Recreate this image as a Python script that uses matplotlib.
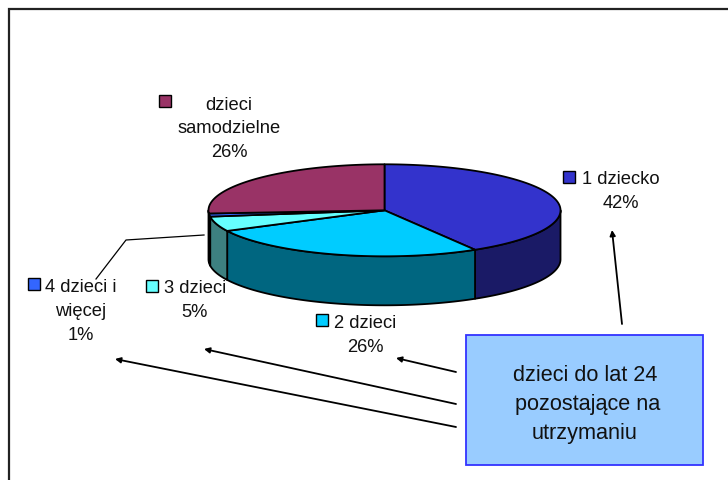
import numpy as np
import matplotlib
matplotlib.use("Agg")
import matplotlib.pyplot as plt
from matplotlib.patches import Polygon, Rectangle

plt.rcParams['font.family'] = ['Liberation Sans', 'DejaVu Sans']

categories = ["1 dziecko", "2 dzieci", "3 dzieci", "4 dzieci i więcej", "dzieci samodzielne"]
# slice sizes as measured off the pie, the printed labels are rounded
values = [41.4, 26.2, 5.2, 1.1, 26.1]
top_colors = ["#3333cc", "#00ccff", "#66ffff", "#3366ff", "#993366"]
side_colors = ["#1a1a66", "#006680", "#3d8080", "#111a50", "#4d1a33"]

# label text, centre x, first line y, legend key x, key y
labels = [
    (["1 dziecko", "42%"], 621, 180, 569, 178),
    (["2 dzieci", "26%"], 365, 324, 322, 321),
    (["3 dzieci", "5%"], 195, 289, 152, 287),
    (["4 dzieci i", "więcej", "1%"], 81, 288, 34, 285),
    (["dzieci", "samodzielne", "26%"], 229, 105, 165, 102),
]
line_gap = 24

box_text = "dzieci do lat 24\n pozostające na\nutrzymaniu"

cx, cy = 384.5, 211.3
rx, ry = 176, 46
depth = 49


def rim(a0, a1):
    # a = degrees clockwise from 12 o'clock
    t = np.radians(np.linspace(a0, a1, max(2, int(abs(a1 - a0)) * 2 + 2)))
    return cx + rx * np.sin(t), cy - ry * np.cos(t)


fig = plt.figure(figsize=(7.28, 4.81), dpi=100)
ax = fig.add_axes([0, 0, 1, 1])
ax.set_xlim(0, 728)
ax.set_ylim(481, 0)
ax.axis("off")

# frame, only top and left show in the crop
ax.plot([8.5, 8.5, 728], [481, 9.5, 9.5], color="#222222", lw=1.6, solid_joinstyle="miter")

edges = np.cumsum([0] + values) / sum(values) * 360

# side walls, only the front half (90..270) can be seen
for i in range(len(values)):
    a0 = max(edges[i], 90)
    a1 = min(edges[i + 1], 270)
    if a1 <= a0:
        continue
    x, y = rim(a0, a1)
    pts = np.r_[np.c_[x, y], np.c_[x[::-1], y[::-1] + depth]]
    ax.add_patch(Polygon(pts, closed=True, fc=side_colors[i], ec="black", lw=1.3, joinstyle="round"))

# top face
for i in range(len(values)):
    x, y = rim(edges[i], edges[i + 1])
    pts = np.r_[[[cx, cy]], np.c_[x, y]]
    ax.add_patch(Polygon(pts, closed=True, fc=top_colors[i], ec="black", lw=1.3, joinstyle="round"))

# labels with legend keys
for i, (lines, tx, ty, kx, ky) in enumerate(labels):
    for j, line in enumerate(lines):
        ax.text(tx, ty + j * line_gap, line, ha="center", va="center", fontsize=13.2, color="#111111")
    ax.add_patch(Rectangle((kx - 6, ky - 6), 12, 12, fc=top_colors[i], ec="black", lw=1))

# leader line for the 1% slice
ax.plot([204, 126, 96], [236, 241, 280], color="black", lw=0.9)

# callout box
ax.add_patch(Rectangle((465.5, 336), 237.5, 130, fc="#99ccff", ec="#3333ff", lw=1.3))
ax.text(585, 404.5, box_text, ha="center", va="center", fontsize=15.6, color="#111111", linespacing=1.5)

# arrows out of the box
arrows = [
    ((622, 325), (612, 231)),
    ((456, 373), (396, 359)),
    ((456, 405), (204, 350)),
    ((456, 428), (115, 360)),
]
for tail, tip in arrows:
    ax.annotate("", xy=tip, xytext=tail,
                arrowprops=dict(arrowstyle="-|>", color="black", lw=1.3, mutation_scale=8,
                                shrinkA=0, shrinkB=0))

fig.savefig("out.png", dpi=100)
